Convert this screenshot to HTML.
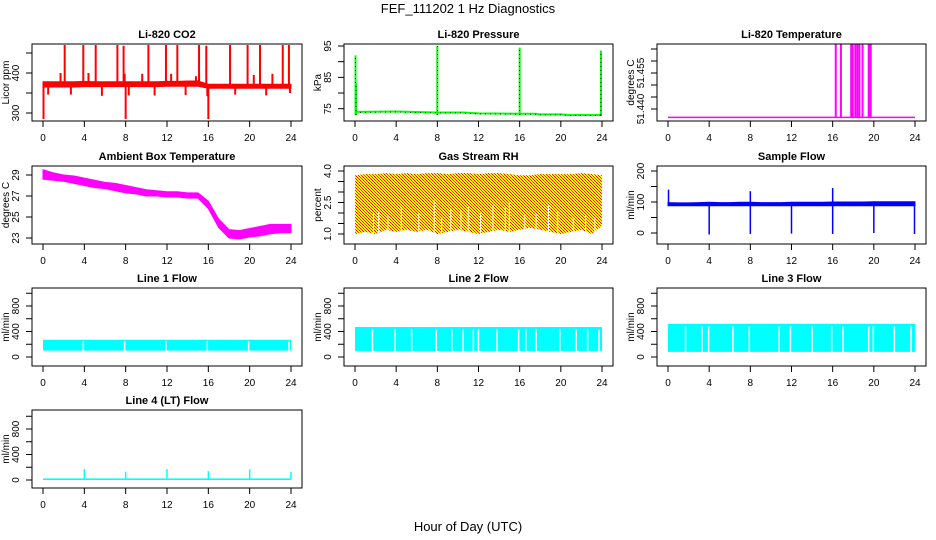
<!DOCTYPE html>
<html><head><meta charset="utf-8"><style>
html,body{margin:0;padding:0;background:#fff;}
svg{display:block;font-family:"Liberation Sans",sans-serif;}
</style></head><body>
<svg id="chart" width="936" height="540" viewBox="0 0 936 540" xmlns="http://www.w3.org/2000/svg">
<defs>
<pattern id="rhpat" width="3" height="3" patternUnits="userSpaceOnUse">
<rect width="3" height="3" fill="#ffff00"/><rect x="0" y="0" width="1" height="1" fill="#ff0000"/><rect x="2" y="2" width="1" height="1" fill="#ff0000"/><rect x="1" y="1" width="1" height="1" fill="#ff3000"/>
</pattern>
</defs>
<text x="468" y="13" text-anchor="middle" font-size="13">FEF_111202  1 Hz Diagnostics</text>
<text x="468" y="531" text-anchor="middle" font-size="13">Hour of Day (UTC)</text>
</svg>
<script>
// ---- data ----
const xTicks = [0,4,8,12,16,20,24];
const bandHours = [0,1,2,3,4,5,6,7,8,9,10,11,12,13,14,15,16,17,18,19,20,21,22,23,24];

const co2Lo = [365,365,365,365,366,366,366,366,366,366,366,366,367,367,367,367,362,362,362,362,362,362,362,362,362];
const co2Hi = [378,378,378,378,379,378,378,378,378,378,378,378,379,379,380,380,372,372,372,372,372,372,372,372,372];
const co2SpikeT = [2.1,3.9,5.1,7.2,7.8,10.2,11.9,13.0,15.1,15.8,18.1,19.8,21.0,23.2,23.8,1.7,4.4,7.9,9.6,12.4,14.8,20.4,22.2,0.5,2.7,5.7,8.3,10.8,13.8,15.9,18.6,21.6,23.9,0.05,8.0,16.0];
const co2SpikeV = [470,470,470,470,468,470,470,470,470,468,470,470,470,470,470,400,400,398,398,398,392,395,398,346,346,343,344,344,345,342,346,344,350,285,285,285];

const presT = [0,4,8,10.5,12,16,17.5,18,20,20.8,24];
const presV = [74.0,74.1,73.8,73.8,73.5,73.4,73.4,73.2,73.2,73.0,73.0];
const presSpikeT = [0.05,0.1,8.0,16.0,23.9];
const presSpikeV = [92,83,95,94.5,93.5];

const tempBase = 51.4365;
const tempSpikeT = [16.3,16.8,17.8,17.95,18.2,18.4,18.6,18.9,19.5,19.6,19.7];
const tempSpikeV = [51.467,51.467,51.467,51.467,51.467,51.467,51.467,51.467,51.467,51.467,51.467];

const ambLo = [28.6,28.5,28.4,28.2,28.0,27.8,27.7,27.5,27.3,27.2,27.0,27.0,26.9,26.9,26.8,26.8,25.8,24.0,23.0,22.9,23.1,23.2,23.4,23.5,23.5];
const ambHi = [29.5,29.2,29.0,28.9,28.7,28.5,28.3,28.2,28.0,27.8,27.6,27.5,27.4,27.4,27.3,27.3,26.5,24.8,23.8,23.7,23.9,24.1,24.3,24.3,24.3];

const rhLo = [1.0,1.1,1.0,1.2,1.1,1.2,1.1,1.2,1.0,1.1,1.2,1.1,1.0,1.1,1.2,1.1,1.2,1.3,1.2,1.1,1.0,1.1,1.2,1.0,1.4];
const rhHi = [3.8,3.85,3.85,3.9,3.85,3.9,3.85,3.9,3.9,3.85,3.9,3.9,3.85,3.9,3.9,3.85,3.8,3.8,3.85,3.85,3.85,3.85,3.9,3.85,3.8];
const rhGapT = [1.8,2.3,3.2,4.5,6.2,7.7,8.4,9.3,10.3,11.0,12.2,13.4,14.6,15.0,16.5,17.6,18.8,19.7,21.2,22.4,23.3];
const rhGapV = [2.0,2.1,1.9,2.3,2.0,2.6,1.8,2.2,2.1,2.3,2.0,2.4,2.3,2.5,1.9,2.0,2.4,2.1,1.8,1.9,1.8];

const sfLo = [88,88,88,88,88,88,88,88,88,88,88,88,88,88,88,88,88,88,88,88,88,88,88,88,88];
const sfHi = [98,97,97,98,99,98,98,99,99,98,98,98,99,99,99,99,100,100,100,100,101,101,101,101,101];
const sfSpikeT = [0.05,8.0,16.0,4.0,8.0,12.0,16.0,20.0,23.95];
const sfSpikeV = [140,135,145,-5,-3,-2,-3,0,-3];

const l1Lo = 100, l1Hi = 270;
const l1GapT = [3.9,7.9,11.9,15.9,19.9,23.8];
const l2Lo = 95, l2Hi = 470;
const l2GapT = [1.7,3.9,5.5,7.9,9.4,10.5,11.5,12.0,13.8,15.9,16.6,17.6,19.9,21.5,22.6,23.7];
const l3Lo = 80, l3Hi = 520;
const l3GapT = [1.7,3.3,3.95,6.3,7.9,10.8,11.9,14.0,15.9,17.0,19.5,19.95,22.0,23.6];
const l4Base = 10;
const l4SpikeT = [4.0,8.0,12.0,16.0,20.0,24.0];
const l4SpikeV = [170,130,170,140,170,130];

// ---- layout ----
const svg = document.getElementById('chart');
const NS = 'http://www.w3.org/2000/svg';
const cols = [{x0:43,x24:291},{x0:355,x24:602},{x0:668,x24:915}];
const rows = [{top:44,bot:121},{top:166,bot:244},{top:288,bot:366},{top:410,bot:488}];

function mk(tag, attrs, parent){
  const e = document.createElementNS(NS, tag);
  for (const k in attrs) e.setAttribute(k, attrs[k]);
  (parent||svg).appendChild(e);
  return e;
}

function panel(name, ci, ri, title, ylab, yref, yTicks, yLabels){
  const c = cols[ci], r = rows[ri];
  const g = mk('g', {});
  
  
  const xs = t => c.x0 + t * (c.x24 - c.x0) / 24;
  const ys = v => yref[1] + (v - yref[0]) * (yref[3] - yref[1]) / (yref[2] - yref[0]);
  const L = c.x0 - 11, R = c.x24 + 11;
  const plot = mk('g', {}, g);
  
  
  const box = mk('rect', {x:L, y:r.top, width:R-L, height:r.bot-r.top, fill:'none', stroke:'#000', 'stroke-width':1}, g);
  
  
  const tt = mk('text', {x:(L+R)/2, y:r.top-6, 'text-anchor':'middle', 'font-size':11, 'font-weight':'bold'}, g);
  tt.textContent = title;
  
  
  const xa = mk('g', {}, g);
  
  
  mk('line', {x1:xs(0), x2:xs(24), y1:r.bot, y2:r.bot, stroke:'#000'}, xa);
  xTicks.forEach(t => {
    mk('line', {x1:xs(t), x2:xs(t), y1:r.bot, y2:r.bot+6, stroke:'#000'}, xa);
    const tx = mk('text', {x:xs(t), y:r.bot+20, 'text-anchor':'middle', 'font-size':10}, xa);
    tx.textContent = t;
    
    
  });
  const ya = mk('g', {}, g);
  
  
  mk('line', {x1:L, x2:L, y1:ys(yTicks[0]), y2:ys(yTicks[yTicks.length-1]), stroke:'#000'}, ya);
  yTicks.forEach((v,i) => {
    mk('line', {x1:L-6, x2:L, y1:ys(v), y2:ys(v), stroke:'#000'}, ya);
    if (yLabels[i] !== '') {
      const yy = ys(v);
      const tx = mk('text', {x:L-13, y:yy, 'text-anchor':'middle', 'font-size':10, transform:'rotate(-90 '+(L-13)+' '+yy+')'}, ya);
      tx.textContent = yLabels[i];
      
      
    }
  });
  const ym = (r.top + r.bot)/2;
  const yl = mk('text', {x:L-23, y:ym, 'text-anchor':'middle', 'font-size':10, transform:'rotate(-90 '+(L-23)+' '+ym+')'}, ya);
  yl.textContent = ylab;
  
  
  return {plot, xs, ys};
}

function band(p, lo, hi, fill, name){
  let d = 'M';
  bandHours.forEach((t,i) => { d += p.xs(t) + ',' + p.ys(hi[i]) + ' L'; });
  for (let i = bandHours.length-1; i >= 0; i--) d += p.xs(bandHours[i]) + ',' + p.ys(lo[i]) + (i ? ' L' : ' Z');
  const e = mk('path', {d:d, fill:fill, stroke:fill==='url(#rhpat)'?'none':fill, 'stroke-width':1}, p.plot);
  
  
}
function vline(p, t, v1, v2, color, w, name, dash){
  const a = {x1:p.xs(t), x2:p.xs(t), y1:p.ys(v1), y2:p.ys(v2), stroke:color, 'stroke-width':w};
  if (dash) a['stroke-dasharray'] = dash;
  const e = mk('line', a, p.plot);
  
  
}
function flatBand(p, lo, hi, gaps, name){
  const e = mk('rect', {x:p.xs(0), y:p.ys(hi), width:p.xs(24)-p.xs(0), height:p.ys(lo)-p.ys(hi), fill:'#00ffff'}, p.plot);
  
  
  gaps.forEach(t => vline(p, t, lo-5, hi*0.92, '#fff', 1.5, name + '-gap'));
}

// CO2
let p = panel('co2', 0, 0, 'Li-820 CO2', 'Licor ppm', [300,113,400,73], [300,350,400,450], ['300','','400','']);
band(p, co2Lo, co2Hi, '#ff0000', 'co2-series');
co2SpikeT.forEach((t,i) => vline(p, t, 372, co2SpikeV[i], '#ff0000', 2, 'co2-spike'));

// Pressure
p = panel('pressure', 1, 0, 'Li-820 Pressure', 'kPa', [75,108.7,95,46], [75,80,85,90,95], ['75','','85','','95']);
{
  let d = 'M';
  presT.forEach((t,i) => { d += p.xs(t) + ',' + p.ys(presV[i]) + (i < presT.length-1 ? ' L' : ''); });
  const e = mk('path', {d:d, fill:'none', stroke:'#00ff00', 'stroke-width':2}, p.plot);
  
  
  const e2 = mk('path', {d:d, fill:'none', stroke:'#000', 'stroke-width':0.8, 'stroke-dasharray':'1,4', transform:'translate(0,0.5)'}, p.plot);
  
  
}
presSpikeT.forEach((t,i) => {
  vline(p, t, 73, presSpikeV[i], '#00ff00', 2, 'pressure-spike');
  vline(p, t, 73, presSpikeV[i], '#000', 0.8, 'pressure-spike-dots', '1,3');
});

// Temperature
p = panel('li820-temp', 2, 0, 'Li-820 Temperature', 'degrees C', [51.440,109,51.455,73], [51.440,51.445,51.450,51.455,51.460,51.465], ['51.440','','','51.455','','']);
{
  const e = mk('line', {x1:p.xs(0), x2:p.xs(24), y1:p.ys(tempBase), y2:p.ys(tempBase), stroke:'#ff00ff', 'stroke-width':1.5}, p.plot);
  
  
}
tempSpikeT.forEach((t,i) => vline(p, t, tempBase, tempSpikeV[i], '#ff00ff', 2, 'li820-temp-spike'));

// Ambient
p = panel('ambient-temp', 0, 1, 'Ambient Box Temperature', 'degrees C', [23,238,29,175], [23,25,27,29], ['23','25','27','29']);
band(p, ambLo, ambHi, '#ff00ff', 'ambient-temp-series');

// RH
p = panel('gas-rh', 1, 1, 'Gas Stream RH', 'percent', [1.0,234,4.0,171], [1.0,1.5,2.0,2.5,3.0,3.5,4.0], ['1.0','','','2.5','','','4.0']);
band(p, rhLo, rhHi, 'url(#rhpat)', 'gas-rh-series');
rhGapT.forEach((t,i) => vline(p, t, 0.9, rhGapV[i], '#fff', 1, 'gas-rh-gap'));

// Sample flow
p = panel('sample-flow', 2, 1, 'Sample Flow', 'ml/min', [0,233,200,171], [0,50,100,150,200], ['0','','100','','200']);
band(p, sfLo, sfHi, '#0000ff', 'sample-flow-series');
sfSpikeT.forEach((t,i) => vline(p, t, 92, sfSpikeV[i], '#0000ff', 1.5, 'sample-flow-spike'));

const flowTicks = [0,200,400,600,800,1000];
const flowLabels = ['0','','400','','800',''];
p = panel('line1-flow', 0, 2, 'Line 1 Flow', 'ml/min', [0,357,800,306], flowTicks, flowLabels);
flatBand(p, l1Lo, l1Hi, l1GapT, 'line1-flow-series');
p = panel('line2-flow', 1, 2, 'Line 2 Flow', 'ml/min', [0,357,800,306], flowTicks, flowLabels);
flatBand(p, l2Lo, l2Hi, l2GapT, 'line2-flow-series');
p = panel('line3-flow', 2, 2, 'Line 3 Flow', 'ml/min', [0,357,800,306], flowTicks, flowLabels);
flatBand(p, l3Lo, l3Hi, l3GapT, 'line3-flow-series');
p = panel('line4-flow', 0, 3, 'Line 4 (LT) Flow', 'ml/min', [0,480,800,429], flowTicks, flowLabels);
{
  const e = mk('rect', {x:p.xs(0), y:p.ys(l4Base+15), width:p.xs(24)-p.xs(0), height:p.ys(0)-p.ys(l4Base+15), fill:'#00ffff'}, p.plot);
  
  
}
l4SpikeT.forEach((t,i) => vline(p, t, l4Base, l4SpikeV[i], '#00ffff', 1.5, 'line4-flow-spike'));
</script>
</body></html>
